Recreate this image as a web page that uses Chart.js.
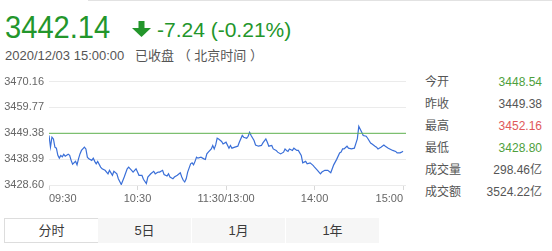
<!DOCTYPE html>
<html>
<head>
<meta charset="utf-8">
<script src="https://cdn.jsdelivr.net/npm/chart.js@4"></script>
<style>
  body { margin: 0; width: 552px; height: 251px; background: #fff; position: relative; overflow: hidden;
         font-family: "Liberation Sans", Arial, "Noto Sans CJK SC", sans-serif; }
  .abs { position: absolute; white-space: nowrap; line-height: 1; }
  #topline { position: absolute; left: 88px; top: 0; width: 464px; height: 1px; background: #e2e2e2; }
  #price { left: 5px; top: 11px; font-size: 32px; color: #23962b; transform: scaleX(0.91); transform-origin: left; }
  #change { left: 157px; top: 19px; font-size: 21px; color: #23962b; }
  #arrow { position: absolute; left: 132px; top: 21px; }
  #stamp { left: 5px; top: 49px; font-size: 13px; color: #555; }
  #chartBox { position: absolute; left: 0; top: 70px; width: 410px; height: 140px; }
  #stats { position: absolute; left: 425px; top: 71px; width: 117px; font-size: 12px; color: #555; }
  .row { height: 22px; line-height: 22px; position: relative; }
  .row span.v { position: absolute; right: 0; top: 0; }
  #tabs { position: absolute; left: 4px; top: 218px; height: 25px; }
  .tab { position: absolute; top: 0; height: 25px; line-height: 25px; text-align: center; font-size: 13px; color: #3a3a3a;
         background: #f6f6f6; box-sizing: border-box; }
  .tab.on { background: #fff; border: 1px solid #ddd; line-height: 23px; }
</style>
</head>
<body>
<div id="topline"></div>
<div id="price" class="abs"></div>
<svg id="arrow" width="19" height="16"><rect x="6.5" y="0" width="6" height="8" fill="#23962b"/><polygon points="0,7 19,7 9.5,16" fill="#23962b"/></svg>
<div id="change" class="abs"></div>
<div id="stamp" class="abs"></div>
<div id="chartBox"><canvas id="myChart" width="410" height="140"></canvas></div>
<div id="stats"></div>
<div id="tabs"></div>
<script>
const lastPrice = '3442.14'
const changeText = '-7.24 (-0.21%)'
const stampText = '2020/12/03 15:00:00\u00a0\u00a0\u00a0已收盘 （ 北京时间 ）'
const prevClose = 3449.38

// minutes after 09:30 (trading minutes, 11:30 and 13:00 share index 120)
const minutes = [0,1,2,3,4,5,6,7,8,9,10,11,13,14,15,16,18,19,20,21,22,24,25,26,27,29,30,31,32,33,35,36,38,40,41,43,44,46,47,49,51,53,54,56,57,59,60,61,63,64,66,67,69,71,72,74,75,77,78,80,81,82,84,85,87,89,90,91,92,93,94,96,97,98,99,100,101,103,105,106,107,108,110,111,112,113,114,115,117,118,120,122,123,124,126,128,129,131,132,134,135,136,137,139,140,142,144,145,147,148,149,151,152,154,155,157,159,160,161,162,163,165,166,168,169,171,172,174,175,177,179,180,182,184,185,187,189,191,192,193,195,197,198,199,200,202,203,205,207,209,210,212,213,215,216,218,219,221,222,223,225,227,228,230,231,233,235,236,238,239,240]
const prices = [3448.54,3443.8,3447.8,3447.1,3443.8,3443.4,3440.5,3439.4,3440.5,3439.9,3440.9,3440.2,3441.0,3440.5,3438.5,3437.0,3438.1,3436.7,3439.1,3441.1,3442.5,3443.8,3443.1,3439.8,3439.1,3438.5,3439.4,3438.1,3437.1,3438.1,3435.8,3435.1,3434.5,3433.1,3434.5,3432.5,3434.1,3433.1,3431.1,3428.8,3431.8,3435.1,3435.8,3434.5,3433.8,3435.1,3433.8,3432.5,3432.5,3430.9,3429.2,3431.8,3433.1,3434.1,3433.1,3433.8,3433.8,3434.5,3432.8,3432.2,3433.1,3431.8,3431.1,3431.8,3432.5,3433.5,3431.8,3430.5,3429.8,3431.1,3433.8,3437.1,3437.5,3436.7,3438.1,3439.8,3439.4,3439.8,3439.1,3438.9,3441.1,3441.8,3443.1,3444.5,3443.1,3444.7,3447.4,3447.1,3446.1,3445.1,3445.8,3443.4,3444.5,3443.4,3443.8,3444.2,3445.8,3448.5,3447.8,3447.4,3448.2,3449.8,3448.5,3446.5,3444.7,3444.2,3444.5,3445.5,3447.1,3445.8,3444.2,3444.5,3443.1,3442.5,3441.8,3441.1,3441.8,3443.1,3442.5,3442.1,3443.1,3442.5,3443.4,3442.5,3442.5,3440.5,3437.5,3438.1,3437.1,3437.5,3436.5,3435.8,3434.5,3433.1,3433.8,3434.5,3434.5,3433.5,3435.1,3436.7,3438.9,3441.5,3441.8,3443.1,3443.1,3444.2,3443.4,3443.1,3443.4,3447.1,3452.16,3449.8,3448.5,3448.2,3447.4,3445.5,3445.1,3444.2,3443.8,3443.1,3443.8,3444.7,3444.2,3443.4,3443.1,3442.5,3442.1,3441.5,3441.5,3441.8,3442.14]

const yTicks = [3428.60, 3438.99, 3449.38, 3459.77, 3470.16]
const xTickMinutes = [0, 60, 120, 180, 240]
const xTickLabels = ['09:30', '10:30', '11:30/13:00', '14:00', '15:00']

const statLabels = ['今开', '昨收', '最高', '最低', '成交量', '成交额']
const statValues = ['3448.54', '3449.38', '3452.16', '3428.80', '298.46亿', '3524.22亿']
const statColors = ['#4e9f3d', '#555', '#e0585a', '#4e9f3d', '#555', '#555']

const tabNames = ['分时', '5日', '1月', '1年']

document.getElementById('price').textContent = lastPrice
document.getElementById('change').textContent = changeText
document.getElementById('stamp').textContent = stampText

const stats = document.getElementById('stats')
statLabels.forEach((lab, i) => {
    let row = document.createElement('div')
    row.className = 'row'
    row.innerHTML = lab + '<span class="v" style="color:' + statColors[i] + '">' + statValues[i] + '</span>'
    stats.appendChild(row)
})

const tabs = document.getElementById('tabs')
tabNames.forEach((name, i) => {
    let t = document.createElement('div')
    t.className = 'tab' + (i == 0 ? ' on' : '')
    t.style.left = (i * 94) + 'px'
    t.style.width = (i == 0 ? 95 : 93) + 'px'
    t.textContent = name
    tabs.appendChild(t)
})

let linePoints = []
for (let i = 0; i < minutes.length; i++) {
    linePoints.push({ x: minutes[i], y: prices[i] })
}

const ctx = document.getElementById('myChart')
new Chart(ctx, {
    type: 'line',
    data: {
        datasets: [
            {
                data: [{ x: 0, y: prevClose }, { x: 242, y: prevClose }],
                borderColor: '#62b552',
                borderWidth: 1,
                pointRadius: 0
            },
            {
                data: linePoints,
                borderColor: '#3a6fd8',
                borderWidth: 1.2,
                pointRadius: 0,
                tension: 0
            }
        ]
    },
    options: {
        responsive: false,
        animation: false,
        layout: { padding: { top: 10, right: 4, left: 0, bottom: 0 } },
        plugins: { legend: { display: false }, tooltip: { enabled: false } },
        scales: {
            x: {
                type: 'linear',
                min: 0,
                max: 242,
                afterBuildTicks: (s) => { s.ticks = xTickMinutes.map(v => ({ value: v })) },
                afterFit: (s) => { s.height = 25 },
                ticks: {
                    callback: (v) => xTickLabels[xTickMinutes.indexOf(v)],
                    align: 'inner',
                    autoSkip: false,
                    maxRotation: 0,
                    padding: 2,
                    color: '#666',
                    font: { size: 11, family: 'Liberation Sans' }
                },
                grid: { drawOnChartArea: false, tickLength: 5, color: '#d8d8d8' },
                border: { display: false }
            },
            y: {
                min: 3428.60,
                max: 3470.16,
                afterBuildTicks: (s) => { s.ticks = yTicks.map(v => ({ value: v })) },
                afterFit: (s) => { s.width = 49 },
                ticks: {
                    callback: (v) => v.toFixed(2),
                    padding: 5,
                    color: '#666',
                    font: { size: 11, family: 'Liberation Sans' }
                },
                grid: { drawTicks: false, color: '#ebebeb' },
                border: { display: false }
            }
        }
    }
})
</script>
</body>
</html>
